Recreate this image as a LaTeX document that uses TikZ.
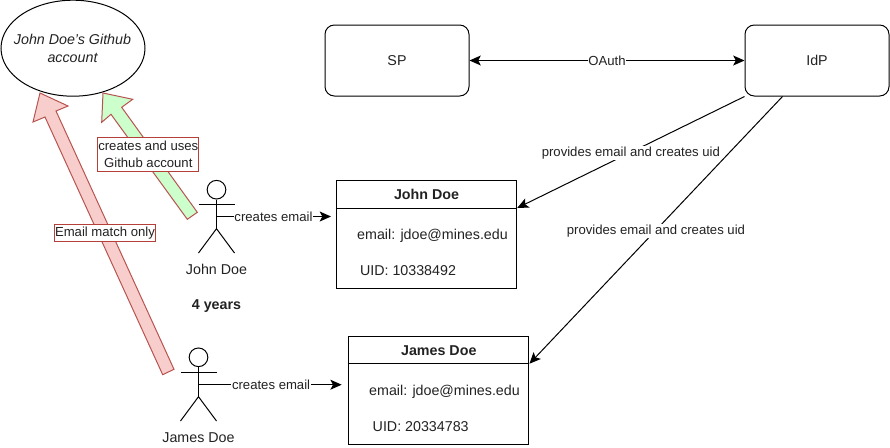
\documentclass[tikz,border=0pt]{standalone}
\usepackage{fontspec}
\setmainfont{Liberation Sans}
\usetikzlibrary{arrows.meta,shapes.geometric,calc}
\definecolor{redfill}{HTML}{F8CECC}
\definecolor{redline}{HTML}{B85450}
\definecolor{greenfill}{HTML}{CCFFCC}
\definecolor{boxred}{HTML}{B5403A}
\definecolor{labelgrey}{HTML}{222222}
\tikzset{
  every node/.style={font=\fontsize{10.7}{13}\selectfont,text=labelgrey},
  px/.style={line width=0.75pt},
  small/.style={font=\fontsize{9.85}{12.4}\selectfont},
  tiphead/.tip={Stealth[length=8.5pt,width=7.5pt,inset=2pt]},
  blockbox/.style={draw=black,px,rectangle,rounded corners=7pt,minimum width=108pt,minimum height=53.25pt,inner sep=0pt},
  tablebox/.style={draw=black,px,rectangle,inner sep=0pt},
  flow/.style={draw=black,px,-tiphead},
  edgetext/.style={fill=white,inner sep=0.5pt,small},
  redlabel/.style={draw=boxred,px,fill=white,inner sep=0pt,align=center,small},
  fatred/.style={draw=redline,px,fill=redfill,line join=miter},
  fatgreen/.style={draw=redline,px,fill=greenfill,line join=miter},
  limb/.style={draw=black,px},
}
\begin{document}
\begin{tikzpicture}[x=0.75pt,y=-0.75pt]
\useasboundingbox (0,0) rectangle (890,447);

% account
\draw[px] (73,48.2) ellipse [x radius=72,y radius=48];
\node (acct) at (72.5,48) [align=center,inner sep=0pt,font=\fontsize{10.7}{13.5}\selectfont\itshape] {John Doe's Github\\account};

% fat arrows
\draw[fatred] (40,93) -- (68,106) -- (56,111) -- (174,369.3) -- (162.7,374.7) -- (45,117) -- (33,122) -- cycle;
\draw[fatgreen] (103,93) -- (132.7,99.3) -- (121.7,107.3) -- (197.3,212.3) -- (187.3,219.3) -- (111,114.3) -- (101.7,122.3) -- cycle;
\node (lgreen) at (148.3,154.2) [redlabel,minimum width=76pt,minimum height=25.5pt] {creates and uses\\Github account};
\node (lred) at (105,233.3) [redlabel,minimum width=76pt,minimum height=13pt] {Email match only};

% SP / IdP
\node (sp) at (397,60.5) [blockbox] {SP};
\node (idp) at (817,60.5) [blockbox] {IdP};
\draw[draw=black,px,tiphead-tiphead] (sp) -- node[edgetext] {OAuth} (idp);

% John actor
\node (johnhead) at (216.5,189.7) [draw=black,px,circle,minimum size=14pt,inner sep=0pt] {};
\coordinate (johnhip) at (216.5,228.7);
\coordinate (johnhand) at (216.5,216.5);
\draw[limb] (johnhead.south) -- (johnhip);
\draw[limb] (198.5,204.3) -- (234.5,204.3);
\draw[limb] (198.5,253) -- (johnhip) -- (234.5,253);
\node (johnname) at (216.5,269) {John Doe};
\node (years) at (216.5,306) {\bfseries 4 years};

% James actor
\node (jameshead) at (198.5,357.3) [draw=black,px,circle,minimum size=14pt,inner sep=0pt] {};
\coordinate (jameship) at (198.5,396.7);
\coordinate (jameshand) at (198.5,384.7);
\draw[limb] (jameshead.south) -- (jameship);
\draw[limb] (180.5,372.7) -- (216.5,372.7);
\draw[limb] (180.5,421) -- (jameship) -- (216.5,421);
\node (jamesname) at (198.5,437.6) {James Doe};

% John table
\node (johnbox) at (426.5,234.5) [tablebox,minimum width=135.25pt,minimum height=80.7pt] {};
\draw[px] (johnbox.west |- 0,208) -- (johnbox.east |- 0,208);
\node (johntitle) at (426.5,194.3) {\bfseries John Doe};
\node (johnmail) at (432.5,235.5) {email: jdoe@mines.edu};
\node (johnuid) at (408,270.8) {UID: 10338492};
\coordinate (johnin) at (johnbox.east |- 0,208);
\coordinate (johnleft) at (331,216.5);

% James table
\node (jamesbox) at (438.8,390.5) [tablebox,minimum width=135.25pt,minimum height=80.7pt] {};
\draw[px] (jamesbox.west |- 0,363.7) -- (jamesbox.east |- 0,363.7);
\node (jamestitle) at (438.8,351) {\bfseries James Doe};
\node (jamesmail) at (444.5,391.5) {email: jdoe@mines.edu};
\node (jamesuid) at (420.7,426.8) {UID: 20334783};
\coordinate (jamesin) at (jamesbox.east |- 0,363.7);
\coordinate (jamesleft) at (341.7,384.7);

% connectors
\draw[flow] (johnhand) -- node[edgetext,pos=0.498] {creates email} (johnleft);
\draw[flow] (jameshand) -- node[edgetext,pos=0.507] {creates email} (jamesleft);
\coordinate (idpa) at (idp.south west);
\coordinate (idpb) at ($(idp.south west)+(38,0)$);
\draw[flow] (idpa) -- node[edgetext,pos=0.5,yshift=-0.7pt] {provides email and creates uid} (johnin);
\draw[flow] (idpb) -- node[edgetext,pos=0.5,yshift=-0.6pt] {provides email and creates uid} (jamesin);
\end{tikzpicture}
\end{document}
